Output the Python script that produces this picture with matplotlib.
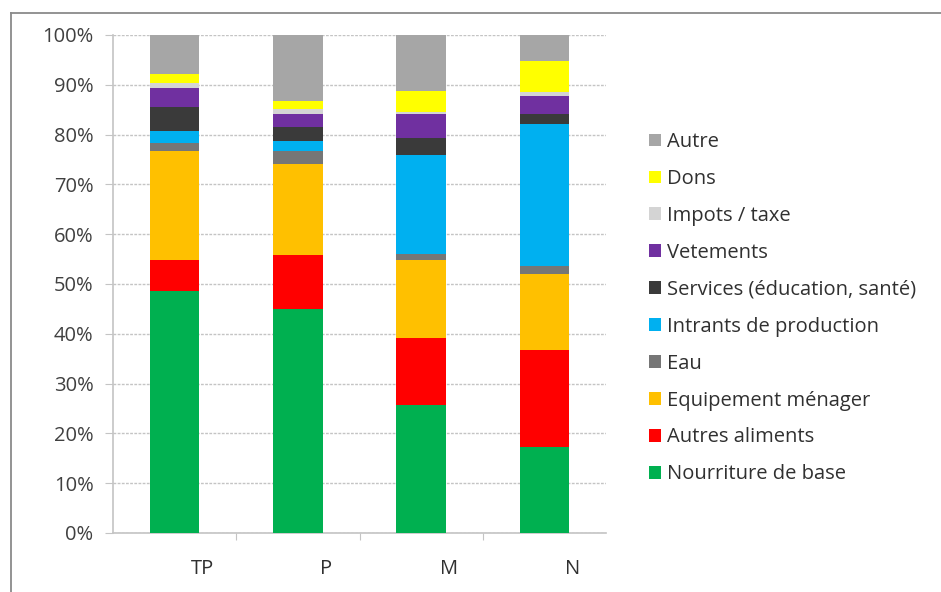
import matplotlib
matplotlib.use("Agg")
import matplotlib.pyplot as plt
import matplotlib.transforms as mtransforms
from matplotlib.lines import Line2D
import numpy as np

plt.rcParams['font.family'] = ['Open Sans', 'DejaVu Sans']

# Household expenditure shares (%) by wealth group
groups = ["TP", "P", "M", "N"]
series_names = [
    "Nourriture de base",
    "Autres aliments",
    "Equipement ménager",
    "Eau",
    "Intrants de production",
    "Services (éducation, santé)",
    "Vetements",
    "Impots / taxe",
    "Dons",
    "Autre",
]
nourriture = [48.5, 45.0, 25.7, 17.3]
autres_aliments = [6.3, 10.8, 13.5, 19.4]
equipement = [22.0, 18.2, 15.6, 15.4]
eau = [1.6, 2.7, 1.2, 1.5]
intrants = [2.3, 2.0, 20.0, 28.5]
services = [4.8, 2.8, 3.3, 2.0]
vetements = [3.9, 2.7, 4.8, 3.6]
impots = [0.9, 0.9, 0.5, 0.9]
dons = [1.8, 1.6, 4.2, 6.2]
autre = [8.2, 13.3, 11.2, 5.2]

colors = ["#00b050", "#ff0000", "#ffc000", "#767676", "#00b0f0",
          "#3a3a3a", "#7030a0", "#d4d4d4", "#ffff00", "#a6a6a6"]

values = [nourriture, autres_aliments, equipement, eau, intrants,
          services, vetements, impots, dons, autre]

fig = plt.figure(figsize=(9.41, 5.92), dpi=100)
ax = fig.add_axes([113 / 941, 1 - 533 / 592, (606 - 113) / 941, (533 - 35) / 592])

x = np.arange(len(groups))
bottom = np.zeros(len(groups))
handles = []
for name, vals, col in zip(series_names, values, colors):
    v = np.array(vals, dtype=float)
    b = ax.bar(x, v, 0.4, bottom=bottom, color=col, label=name,
               edgecolor="none", zorder=3)
    handles.append(b)
    bottom += v

ax.set_xlim(-0.5, 3.5)
ax.set_ylim(0, 100)
ax.set_yticks(np.arange(0, 101, 10))
ax.set_yticklabels([f"{t}%" for t in range(0, 101, 10)], fontsize=14.5, color="#404040")
ax.yaxis.grid(True, color="#c4c4c4", linestyle=(0, (2, 1)), linewidth=1.0, zorder=0)
ax.tick_params(axis="y", length=6, color="#c4c4c4", pad=8)

# Category boundaries as x ticks, labels placed between
ax.set_xticks([0.5, 1.5, 2.5], minor=False)
ax.set_xticklabels([])
ax.tick_params(axis="x", which="major", length=5, color="#c4c4c4")
ax.set_xticks(x, minor=True)
ax.set_xticklabels(groups, minor=True, fontsize=14.5, color="#303030")
ax.tick_params(axis="x", which="minor", length=0, pad=19)
offset = mtransforms.ScaledTranslation(0.28, 0, fig.dpi_scale_trans)
for lbl in ax.xaxis.get_minorticklabels():
    lbl.set_transform(lbl.get_transform() + offset)

for side in ["top", "right"]:
    ax.spines[side].set_visible(False)
for side in ["left", "bottom"]:
    ax.spines[side].set_color("#c4c4c4")
    ax.spines[side].set_linewidth(1.2)
    ax.spines[side].set_linestyle((0, (2, 1)))

leg = fig.legend(handles[::-1], series_names[::-1], loc="upper left",
                 bbox_to_anchor=(631 / 941, 1 - 114 / 592), frameon=False,
                 fontsize=14.5, labelspacing=0.84, handlelength=0.6,
                 handleheight=0.6, handletextpad=0.3, labelcolor="#303030")

# Outer frame lines
fig.add_artist(Line2D([11 / 941, 1.0], [1 - 13 / 592, 1 - 13 / 592],
                      transform=fig.transFigure, color="#8a8a8a", lw=1.3))
fig.add_artist(Line2D([11 / 941, 11 / 941], [0, 1 - 13 / 592],
                      transform=fig.transFigure, color="#8a8a8a", lw=1.3))

fig.savefig("out.png", dpi=100)
